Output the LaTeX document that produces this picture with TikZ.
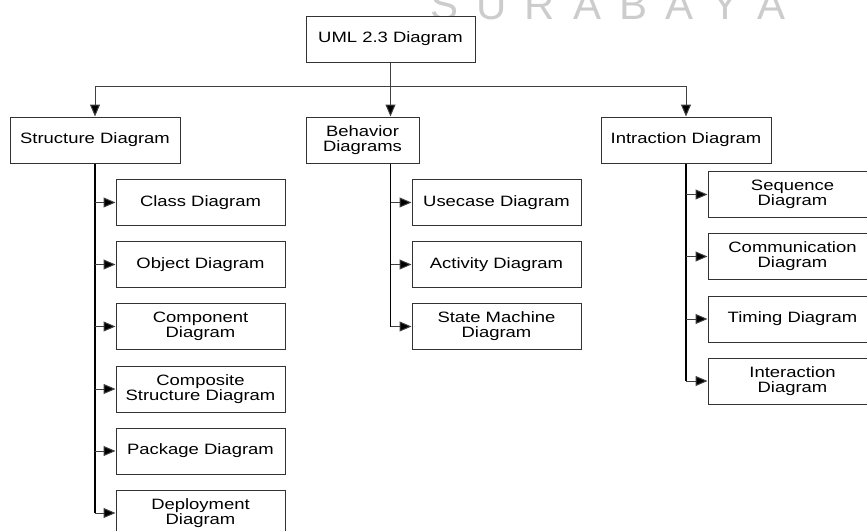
\documentclass[tikz,border=0pt]{standalone}
\usepackage{fontspec}
\setmainfont{Liberation Sans}[FakeStretch=1.23]
\newfontfamily\markfont{Liberation Sans}
\usetikzlibrary{arrows.meta, positioning}

\tikzset{
    diagbox/.style={draw=black!80, line width=0.5pt, fill=white, align=center,
        minimum width=84.5pt, minimum height=23pt, inner sep=1pt,
        font=\fontsize{7.5}{7.6}\selectfont},
    link/.style={draw=black!75, line width=0.5pt, -{Triangle[length=6pt,width=5pt,fill=black]}},
    trunk/.style={draw=black, line width=0.8pt}
}

\begin{document}
\begin{tikzpicture}[x=0.5pt, y=-0.5pt]
        % Frame of the picture
        \clip (0,0) rectangle (867,530);
        \useasboundingbox (0,0) rectangle (867,530);
        % Watermark
        \node[text=black!20, font=\markfont\fontsize{21}{21}\selectfont, anchor=base west, inner sep=0pt]
            (mark) at (430,19) {S\hspace{9pt}U\hspace{9pt}R\hspace{9pt}A\hspace{9pt}B\hspace{9pt}A\hspace{9pt}Y\hspace{9pt}A};
        % Root and the three groups
        \node[diagbox] (uml) at (390.5,39) {UML 2.3 Diagram};
        \node[diagbox, minimum width=85pt] (struct) at (95,140) {Structure Diagram};
        \node[diagbox, minimum width=56.5pt] (behav) at (362.5,140) {Behavior\\Diagrams};
        \node[diagbox, minimum width=85pt] (intr) at (686,140) {Intraction Diagram};
        % Structure diagrams
        \node[diagbox] (class) at (200.5,202.5) {Class Diagram};
        \node[diagbox] (object) at (200.5,264.5) {Object Diagram};
        \node[diagbox] (compo) at (200.5,326.5) {Component\\Diagram};
        \node[diagbox] (compos) at (200.5,389) {Composite\\Structure Diagram};
        \node[diagbox] (pack) at (200.5,451) {Package Diagram};
        \node[diagbox] (deploy) at (200.5,513) {Deployment\\Diagram};
        % Behavior diagrams
        \node[diagbox] (usecase) at (496.5,202.5) {Usecase Diagram};
        \node[diagbox] (activ) at (496.5,264.5) {Activity Diagram};
        \node[diagbox] (state) at (496.5,326.5) {State Machine\\Diagram};
        % Interaction diagrams
        \node[diagbox] (seq) at (792.5,194.5) {Sequence\\Diagram};
        \node[diagbox] (comm) at (792.5,256.5) {Communication\\Diagram};
        \node[diagbox] (timing) at (792.5,319) {Timing Diagram};
        \node[diagbox] (inter) at (792.5,381) {Interaction\\Diagram};
        % Root connectors
        \coordinate (split) at (390.5,86);
        \draw[link] (uml.south) -- (uml.south |- behav.north);
        \draw[link] (split) -| (struct.north);
        \draw[link] (split) -| (intr.north);
        % Trunks
        \draw[trunk] (struct.south) -- (struct.south |- deploy.west);
        \draw[trunk] (uml.south |- behav.south) -- (uml.south |- state.west);
        \draw[trunk] (intr.south) -- (intr.south |- inter.west);
        % Branches
        \foreach \child in {class, object, compo, compos, pack, deploy}
            \draw[link] (struct.south |- \child.west) -- (\child.west);
        \foreach \child in {usecase, activ, state}
            \draw[link] (uml.south |- \child.west) -- (\child.west);
        \foreach \child in {seq, comm, timing, inter}
            \draw[link] (intr.south |- \child.west) -- (\child.west);
    \end{tikzpicture}
\end{document}
